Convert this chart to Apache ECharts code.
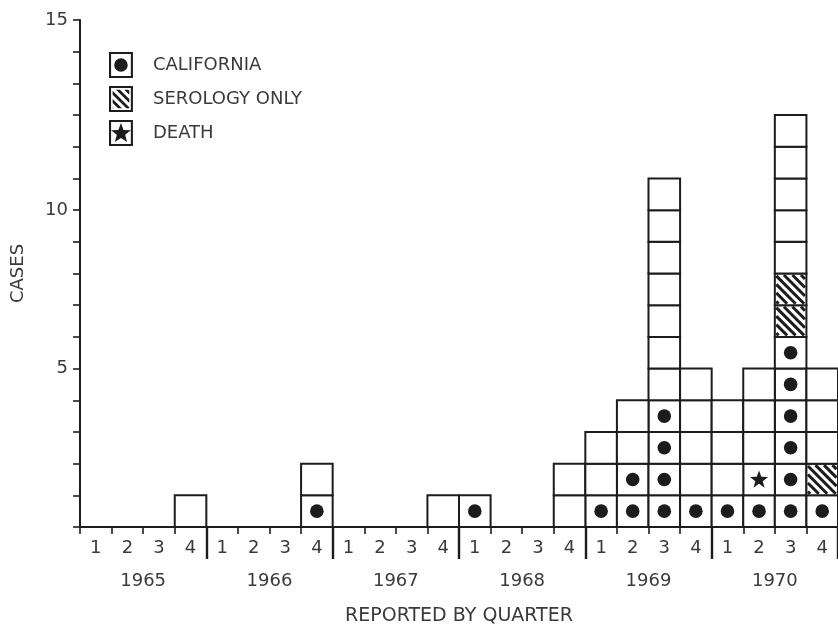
<!DOCTYPE html>
<html>
<head>
<meta charset="utf-8">
<script src="https://cdn.jsdelivr.net/npm/echarts@6/dist/echarts.min.js"></script>
<style>
html,body{margin:0;padding:0;background:#ffffff;}
#chart{width:838px;height:625px;}
</style>
</head>
<body>
<div id="chart"></div>
<script>
// ---- data (1965 Q1 ... 1970 Q4) ----
const quarterLabels = ['1','2','3','4','1','2','3','4','1','2','3','4','1','2','3','4','1','2','3','4','1','2','3','4'];
const yearLabels = ['1965','1966','1967','1968','1969','1970'];
const yTickValues = [5, 10, 16];
const yTickTexts = ['5', '10', '15'];
const californiaCases = [0,0,0,0, 0,0,0,1, 0,0,0,0, 1,0,0,0, 1,2,4,1, 1,1,6,1];
const deathCases      = [0,0,0,0, 0,0,0,0, 0,0,0,0, 0,0,0,0, 0,0,0,0, 0,1,0,0];
const serologyOnly    = [0,0,0,0, 0,0,0,0, 0,0,0,0, 0,0,0,0, 0,0,0,0, 0,0,2,1];
const otherCases      = [0,0,0,1, 0,0,0,1, 0,0,0,1, 0,0,0,2, 2,2,7,4, 3,3,5,3];

const INK = '#1c1c1c';
const TXT = '#3a3a3a';
const FONT = 'DejaVu Sans';

// one cell per case, stacked: California, death, serology only, other
const cells = {dot: [], star: [], hatch: [], plain: []};
for (let i = 0; i < quarterLabels.length; i++) {
  let lv = 0;
  const groups = [['dot', californiaCases[i]], ['star', deathCases[i]], ['hatch', serologyOnly[i]], ['plain', otherCases[i]]];
  groups.forEach(([k, n]) => { for (let j = 0; j < n; j++) { cells[k].push([i, lv]); lv++; } });
}

function starPoints(cx, cy, R, r) {
  const pts = [];
  for (let k = 0; k < 10; k++) {
    const a = -Math.PI / 2 + k * Math.PI / 5;
    const rr = k % 2 === 0 ? R : r;
    pts.push([cx + rr * Math.cos(a), cy + rr * Math.sin(a)]);
  }
  return pts;
}

function makeRender(kind) {
  return function (params, api) {
    const q = api.value(0), lv = api.value(1);
    const b = api.coord([q, lv]);
    const t = api.coord([q, lv + 1]);
    const bw = api.size([1, 0])[0];
    const x0 = b[0] - bw / 2, y0 = t[1], w = bw, h = b[1] - t[1];
    const cx = b[0], cy = (b[1] + t[1]) / 2;
    const ch = [{type: 'rect', shape: {x: x0, y: y0, width: w, height: h},
                 style: {fill: '#fff', stroke: INK, lineWidth: 2}}];
    if (kind === 'dot') {
      ch.push({type: 'circle', shape: {cx: cx, cy: cy, r: 6.8}, style: {fill: INK}});
    } else if (kind === 'star') {
      ch.push({type: 'polygon', shape: {points: starPoints(cx, cy + 0.5, 9.5, 3.9)}, style: {fill: INK}});
    } else if (kind === 'hatch') {
      const ix = x0 + 1.5, iy = y0 + 1.5, iw = w - 3, ih = h - 3;
      for (let s = -iw + 4; s < ih; s += 8.5) {
        const xs = ix + Math.max(0, -s);
        const xe = ix + Math.min(iw, ih - s);
        if (xe - xs < 1) continue;
        ch.push({type: 'line', shape: {x1: xs, y1: iy + s + (xs - ix), x2: xe, y2: iy + s + (xe - ix)},
                 style: {stroke: INK, lineWidth: 3}});
      }
    }
    return {type: 'group', children: ch};
  };
}

// ---- legend icons as paths (23 x 25 box) ----
const ring = 'M0 0H23V25H0Z M2 2V23H21V2Z ';
function polyPath(pts) {
  return 'M' + pts.map(p => p[0].toFixed(2) + ' ' + p[1].toFixed(2)).join('L') + 'Z ';
}
function clipHalf(poly, f) {
  const out = [];
  for (let i = 0; i < poly.length; i++) {
    const a = poly[i], b = poly[(i + 1) % poly.length];
    const fa = f(a), fb = f(b);
    if (fa >= 0) out.push(a);
    if ((fa >= 0) !== (fb >= 0)) {
      const tt = fa / (fa - fb);
      out.push([a[0] + tt * (b[0] - a[0]), a[1] + tt * (b[1] - a[1])]);
    }
  }
  return out;
}
let hatchPath = ring;
[-15, -7, 1, 9, 17].forEach(c => {
  let poly = [[3.5, 3.5], [19.5, 3.5], [19.5, 21.5], [3.5, 21.5]];
  poly = clipHalf(poly, p => (p[1] - p[0]) - c);
  poly = clipHalf(poly, p => (c + 3.8) - (p[1] - p[0]));
  if (poly.length >= 3) hatchPath += polyPath(poly);
});
const dotPath = ring + 'M18 12.5A6.5 6.5 0 1 1 5 12.5A6.5 6.5 0 1 1 18 12.5Z';
const starPath = ring + polyPath(starPoints(11.5, 13, 10, 4.2));

const chart = echarts.init(document.getElementById('chart'), null, {renderer: 'canvas'});
const option = {
  backgroundColor: '#ffffff',
  animation: false,
  grid: {left: 80, top: 20, width: 758, height: 507, containLabel: false, outerBoundsMode: 'none'},
  legend: {
    orient: 'vertical', left: 109, top: 52, itemGap: 8, padding: 0,
    itemWidth: 54, itemHeight: 26, selectedMode: false,
    itemStyle: {color: INK, borderWidth: 0},
    textStyle: {fontFamily: FONT, fontSize: 18, color: TXT},
    data: [
      {name: 'CALIFORNIA', icon: 'path://' + dotPath},
      {name: 'SEROLOGY ONLY', icon: 'path://' + hatchPath},
      {name: 'DEATH', icon: 'path://' + starPath}
    ]
  },
  xAxis: [
    {
      type: 'category', data: quarterLabels, position: 'bottom', boundaryGap: true,
      name: 'REPORTED BY QUARTER', nameLocation: 'middle', nameGap: 80,
      nameTextStyle: {fontFamily: FONT, fontSize: 19, color: TXT},
      axisLine: {show: true, lineStyle: {color: INK, width: 2}},
      axisTick: {show: true, length: 7, interval: 0, lineStyle: {color: INK, width: 1.6}},
      axisLabel: {interval: 0, margin: 12, fontFamily: FONT, fontSize: 18, color: TXT},
      splitLine: {show: false}
    },
    {
      type: 'category', data: yearLabels, position: 'bottom', offset: 0, boundaryGap: true,
      axisLine: {show: false},
      axisTick: {show: true, length: 32, interval: function (i) { return i > 0; },
                 lineStyle: {color: INK, width: 2.4}},
      axisLabel: {interval: 0, margin: 45, fontFamily: FONT, fontSize: 18, color: TXT},
      splitLine: {show: false}
    }
  ],
  yAxis: {
    type: 'value', min: 0, max: 16, interval: 1,
    name: 'CASES', nameLocation: 'middle', nameGap: 53, nameRotate: 90,
    nameTextStyle: {fontFamily: FONT, fontSize: 18, color: TXT},
    axisLine: {show: true, lineStyle: {color: INK, width: 2}},
    axisTick: {show: true, length: 7, lineStyle: {color: INK, width: 1.6}},
    axisLabel: {
      margin: 12, fontFamily: FONT, fontSize: 18, color: TXT,
      formatter: function (v) { const k = yTickValues.indexOf(v); return k >= 0 ? yTickTexts[k] : ''; }
    },
    splitLine: {show: false}
  },
  series: [
    {name: 'CALIFORNIA', type: 'custom', xAxisIndex: 0, renderItem: makeRender('dot'), data: cells.dot, itemStyle: {color: INK}, clip: false},
    {name: 'DEATH', type: 'custom', xAxisIndex: 0, renderItem: makeRender('star'), data: cells.star, itemStyle: {color: INK}, clip: false},
    {name: 'SEROLOGY ONLY', type: 'custom', xAxisIndex: 0, renderItem: makeRender('hatch'), data: cells.hatch, itemStyle: {color: INK}, clip: false},
    {name: 'OTHER CASES', type: 'custom', xAxisIndex: 0, renderItem: makeRender('plain'), data: cells.plain, itemStyle: {color: INK}, clip: false}
  ]
};
chart.setOption(option);
</script>
</body>
</html>
